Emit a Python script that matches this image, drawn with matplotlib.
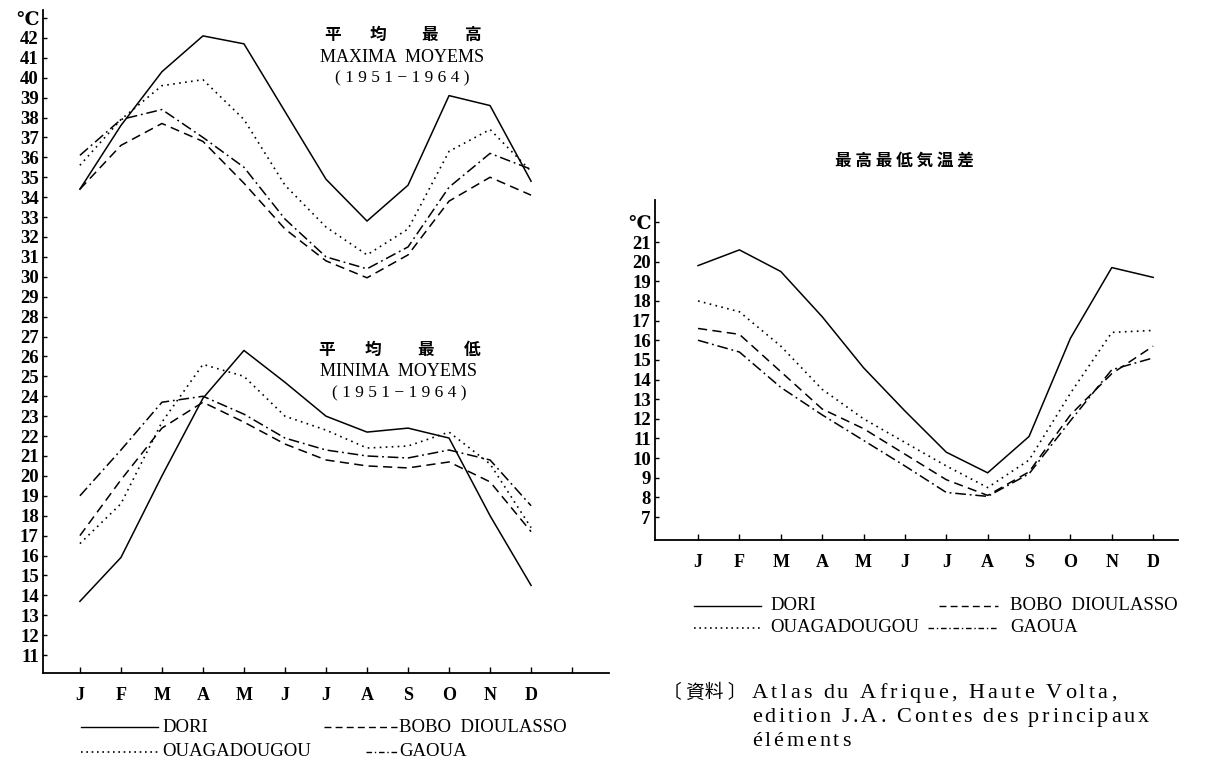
import numpy as np
import matplotlib
matplotlib.use('Agg')
import matplotlib.pyplot as plt
from matplotlib.lines import Line2D

# ---- data ----
months = ['J', 'F', 'M', 'A', 'M', 'J', 'J', 'A', 'S', 'O', 'N', 'D']

# mean maxima 1951-1964
dori_max = [34.4, 37.6, 40.3, 42.1, 41.7, 38.3, 34.9, 32.8, 34.6, 39.1, 38.6, 34.8]
ouaga_max = [35.6, 37.9, 39.6, 39.9, 37.9, 34.6, 32.5, 31.1, 32.4, 36.3, 37.4, 35.3]
bobo_max = [34.4, 36.6, 37.7, 36.8, 34.7, 32.4, 30.8, 29.95, 31.1, 33.8, 35.0, 34.1]
gaoua_max = [36.1, 37.9, 38.4, 37.0, 35.5, 32.9, 31.0, 30.4, 31.5, 34.5, 36.2, 35.4]

# mean minima 1951-1964
dori_min = [13.7, 15.9, 20.0, 23.9, 26.3, 24.7, 23.0, 22.2, 22.4, 21.9, 18.0, 14.5]
ouaga_min = [16.6, 18.6, 22.7, 25.6, 25.0, 23.0, 22.3, 21.4, 21.5, 22.2, 20.6, 17.4]
bobo_min = [17.0, 19.8, 22.4, 23.7, 22.7, 21.6, 20.8, 20.5, 20.4, 20.7, 19.7, 17.2]
gaoua_min = [19.0, 21.3, 23.7, 24.0, 23.1, 21.9, 21.3, 21.0, 20.9, 21.3, 20.8, 18.5]

# max - min range
dori_rng = [19.8, 20.6, 19.5, 17.2, 14.6, 12.4, 10.3, 9.25, 11.1, 16.1, 19.7, 19.2]
ouaga_rng = [18.0, 17.45, 15.7, 13.5, 12.0, 10.8, 9.6, 8.5, 9.9, 13.3, 16.4, 16.5]
bobo_rng = [16.6, 16.3, 14.4, 12.5, 11.5, 10.2, 8.9, 8.1, 9.3, 12.2, 14.3, 15.7]
gaoua_rng = [16.0, 15.4, 13.6, 12.2, 10.9, 9.6, 8.25, 8.05, 9.2, 11.9, 14.5, 15.1]

serif = ['Liberation Serif', 'DejaVu Serif', 'Noto Sans CJK JP']
cjk = ['Noto Sans CJK JP', 'DejaVu Sans']

ls_dori = '-'
ls_ouaga = (0, (1, 2.6))
ls_bobo = (0, (6, 3.5))
ls_gaoua = (0, (7, 2.5, 1.2, 2.5))

W, H = 1213, 766
fig = plt.figure(figsize=(W / 100, H / 100), dpi=100)


def px_axes(x0, y0, x1, y1):
    """axes from pixel box (top-left origin)"""
    return fig.add_axes([x0 / W, 1 - y1 / H, (x1 - x0) / W, (y1 - y0) / H])


def style_axes(ax, yticks, ylabels, xticks, xlabels):
    ax.spines['top'].set_visible(False)
    ax.spines['right'].set_visible(False)
    ax.spines['left'].set_linewidth(1.3)
    ax.spines['bottom'].set_linewidth(1.3)
    ax.set_yticks(yticks)
    ax.set_yticklabels(ylabels, family=serif, fontsize=13.5, fontweight='bold')
    ax.set_xticks(xticks)
    ax.set_xticklabels(xlabels, family=serif, fontsize=13, fontweight='bold')
    ax.tick_params(axis='y', direction='in', length=3, width=1, pad=3)
    ax.tick_params(axis='x', direction='in', length=4, width=1, pad=10)


x = np.arange(12)

# ---- left chart: maxima and minima ----
ax1 = px_axes(43, 10, 609, 673)
for ys in (dori_max, dori_min):
    ax1.plot(x, ys, color='k', lw=1.1, ls=ls_dori)
for ys in (ouaga_max, ouaga_min):
    ax1.plot(x, ys, color='k', lw=1.2, ls=ls_ouaga)
for ys in (bobo_max, bobo_min):
    ax1.plot(x, ys, color='k', lw=1.1, ls=ls_bobo)
for ys in (gaoua_max, gaoua_min):
    ax1.plot(x, ys, color='k', lw=1.1, ls=ls_gaoua)
ax1.set_xlim(-0.9, 12.9)
ax1.set_ylim(10.1, 43.4)
yt = list(range(11, 44))
style_axes(ax1, yt, [str(v) for v in yt[:-1]] + ['℃'], range(13), months + [''])

# ---- right chart: range ----
ax2 = px_axes(655, 200, 1178, 540)
ax2.plot(x, dori_rng, color='k', lw=1.1, ls=ls_dori)
ax2.plot(x, ouaga_rng, color='k', lw=1.2, ls=ls_ouaga)
ax2.plot(x, bobo_rng, color='k', lw=1.1, ls=ls_bobo)
ax2.plot(x, gaoua_rng, color='k', lw=1.1, ls=ls_gaoua)
ax2.set_xlim(-1.04, 11.6)
ax2.set_ylim(5.83, 23.14)
yt2 = list(range(7, 23))
style_axes(ax2, yt2, [str(v) for v in yt2[:-1]] + ['℃'], range(12), months)


# ---- titles ----
def ftext(px, py, s, **kw):
    fig.text(px / W, 1 - py / H, s, va='center', **kw)


for cx, ch in zip([333, 378, 430, 473], '平均最高'):
    ftext(cx, 35, ch, ha='center', family=cjk, fontsize=12, fontweight='bold')
ftext(402, 57, 'MAXIMA  MOYEMS', ha='center', family=serif, fontsize=13)
ftext(402, 78, '( 1 9 5 1 − 1 9 6 4 )', ha='center', family=serif, fontsize=12.5)

for cx, ch in zip([327, 373, 426, 472], '平均最低'):
    ftext(cx, 350, ch, ha='center', family=cjk, fontsize=12, fontweight='bold')
ftext(399, 372, 'MINIMA  MOYEMS', ha='center', family=serif, fontsize=13)
ftext(399, 393, '( 1 9 5 1 − 1 9 6 4 )', ha='center', family=serif, fontsize=12.5)

ftext(904, 161, ' '.join('最高最低気温差'), ha='center', family=cjk,
      fontsize=12, fontweight='bold')


# ---- legends ----
def key(x0, x1, y, ls, lw=1.0):
    fig.add_artist(Line2D([x0 / W, x1 / W], [1 - y / H, 1 - y / H],
                          transform=fig.transFigure, color='k', lw=lw, ls=ls))


leg_font = dict(family=serif, fontsize=13.5)

key(81, 158, 727, ls_dori)
ftext(162, 727, 'DORI', ha='left', **leg_font)
key(324, 397, 727, (0, (5, 3)))
ftext(399, 727, 'BOBO  DIOULASSO', ha='left', **leg_font)
key(81, 160, 752, (0, (1, 2.2)), lw=1.2)
ftext(162, 752, 'OUAGADOUGOU', ha='left', **leg_font)
key(366, 397, 752, (0, (4, 2, 1, 2)))
ftext(399, 752, 'GAOUA', ha='left', **leg_font)

key(694, 761, 606, ls_dori)
ftext(770, 606, 'DORI', ha='left', **leg_font)
key(939, 998, 606, (0, (5, 3)))
ftext(1010, 606, 'BOBO  DIOULASSO', ha='left', **leg_font)
key(694, 761, 628, (0, (1, 2.2)), lw=1.2)
ftext(770, 628, 'OUAGADOUGOU', ha='left', **leg_font)
key(928, 998, 628, (0, (4, 2, 1, 2)))
ftext(1010, 628, 'GAOUA', ha='left', **leg_font)

# ---- source (letter-spaced like the typeset original) ----
renderer = fig.canvas.get_renderer()


def tracked(px, py, s, track, space=5, **kw):
    xc = px
    for ch in s:
        if ch == ' ':
            xc += space + track
            continue
        t = fig.text(xc / W, 1 - py / H, ch, va='baseline', ha='left', **kw)
        xc += t.get_window_extent(renderer=renderer).width + track


ftext(663, 692, '〔 資料 〕', ha='left', family=cjk, fontsize=13.5)
src_font = dict(family=serif, fontsize=16)
tracked(752, 698, 'Atlas du Afrique, Haute Volta,', 3.2, **src_font)
tracked(752, 722, 'edition J.A. Contes des principaux', 2.8, **src_font)
tracked(752, 746, 'éléments', 2.8, **src_font)

plt.savefig('out.png', dpi=100)
